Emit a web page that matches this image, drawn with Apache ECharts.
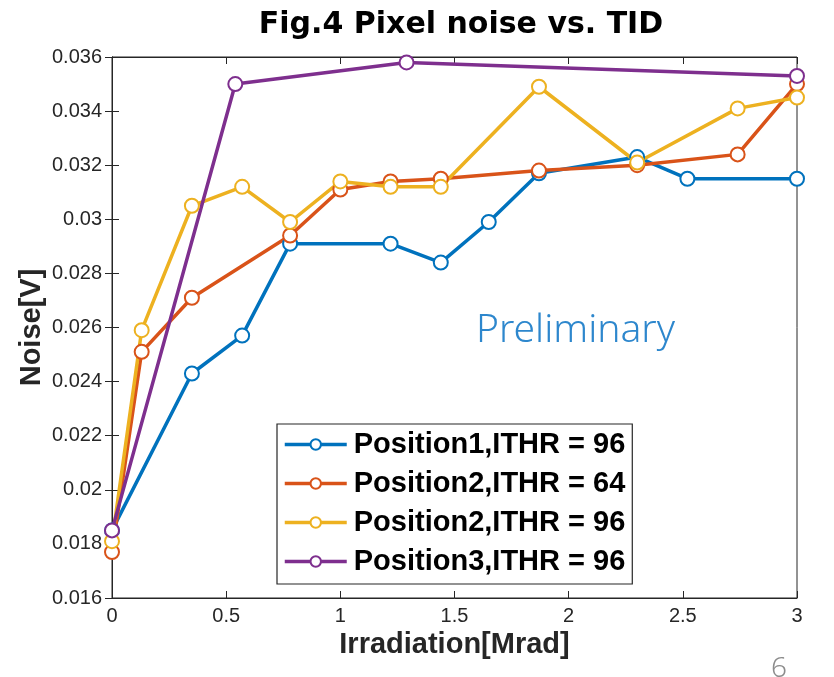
<!DOCTYPE html>
<html lang="en">
<head>
    <meta charset="utf-8">
    <script src="https://cdn.jsdelivr.net/npm/echarts@6/dist/echarts.min.js"></script>
    <style>
        html, body { margin: 0; padding: 0; background: #fff; }
    </style>
</head>
<body>
<div id="main" style="width: 834px;height:677px;"></div>
<script type="text/javascript">
    // data
    var names = ['Position1,ITHR = 96', 'Position2,ITHR = 64', 'Position2,ITHR = 96', 'Position3,ITHR = 96'];
    var colors = ['#0072BD', '#D95319', '#EDB120', '#7E2F8E'];

    var pos1X = [0, 0.35, 0.57, 0.78, 1.22, 1.44, 1.65, 1.87, 2.3, 2.52, 3.0];
    var pos1Y = [0.0185, 0.0243, 0.0257, 0.0291, 0.0291, 0.0284, 0.0299, 0.0317, 0.0323, 0.0315, 0.0315];

    var pos2aX = [0, 0.13, 0.35, 0.78, 1.0, 1.22, 1.44, 1.87, 2.3, 2.74, 3.0];
    var pos2aY = [0.0177, 0.0251, 0.0271, 0.0294, 0.0311, 0.0314, 0.0315, 0.0318, 0.0320, 0.0324, 0.0350];

    var pos2bX = [0, 0.13, 0.35, 0.57, 0.78, 1.0, 1.22, 1.44, 1.87, 2.3, 2.74, 3.0];
    var pos2bY = [0.0181, 0.0259, 0.0305, 0.0312, 0.0299, 0.0314, 0.0312, 0.0312, 0.0349, 0.0321, 0.0341, 0.0345];

    var pos3X = [0, 0.54, 1.29, 3.0];
    var pos3Y = [0.0185, 0.0350, 0.0358, 0.0353];

    function zip(xs, ys) {
        return xs.map(function (x, i) { return [x, ys[i]]; });
    }
    var allData = [zip(pos1X, pos1Y), zip(pos2aX, pos2aY), zip(pos2bX, pos2bY), zip(pos3X, pos3Y)];

    var axisFont = 'Liberation Sans, Arial, sans-serif';
    var ink = '#262626';

    var chart = echarts.init(document.getElementById('main'));
    var option = {
        animation: false,
        backgroundColor: '#fff',
        title: {
            text: 'Fig.4 Pixel noise vs. TID',
            left: 456,
            textAlign: 'center',
            top: 5,
            textStyle: {
                fontFamily: 'DejaVu Sans, sans-serif',
                fontWeight: 'bold',
                fontSize: 30,
                color: '#000'
            }
        },
        grid: {
            left: 112, right: 37, top: 57, bottom: 79,
            show: true,
            borderColor: ink,
            borderWidth: 1,
            backgroundColor: '#fff'
        },
        legend: {
            orient: 'vertical',
            left: 277,
            top: 424,
            padding: [6, 7, 8, 6],
            itemGap: 10,
            itemWidth: 62,
            itemHeight: 13,
            backgroundColor: '#fff',
            borderColor: ink,
            borderWidth: 1.2,
            data: names,
            itemStyle: {borderWidth: 3},
            lineStyle: {width: 3.5},
            textStyle: {
                fontFamily: axisFont,
                fontWeight: 'bold',
                fontSize: 29,
                color: '#000',
                padding: [0, 0, 0, 2]
            }
        },
        xAxis: [{
            type: 'value',
            min: 0, max: 3, interval: 0.5,
            name: 'Irradiation[Mrad]',
            nameLocation: 'middle',
            nameGap: 29,
            nameTextStyle: {fontFamily: axisFont, fontWeight: 'bold', fontSize: 29, color: ink},
            axisLine: {show: true, lineStyle: {color: ink}},
            axisTick: {show: true, inside: true, length: 7, lineStyle: {color: ink}},
            axisLabel: {fontFamily: axisFont, fontSize: 20, color: ink, margin: 8},
            splitLine: {show: false}
        }, {
            type: 'value',
            position: 'top',
            min: 0, max: 3, interval: 0.5,
            axisLine: {show: true, lineStyle: {color: ink}},
            axisTick: {show: true, inside: true, length: 7, lineStyle: {color: ink}},
            axisLabel: {show: false},
            splitLine: {show: false}
        }],
        yAxis: [{
            type: 'value',
            min: 0.016, max: 0.036, interval: 0.002,
            name: 'Noise[V]',
            nameLocation: 'middle',
            nameGap: 66,
            nameMoveOverlap: false,
            nameTextStyle: {fontFamily: axisFont, fontWeight: 'bold', fontSize: 29, color: ink},
            axisLine: {show: true, lineStyle: {color: ink}},
            axisTick: {show: true, inside: true, length: 7, lineStyle: {color: ink}},
            axisLabel: {
                fontFamily: axisFont, fontSize: 20, color: ink, margin: 10,
                formatter: function (v) { return String(parseFloat(v.toFixed(3))); }
            },
            splitLine: {show: false}
        }, {
            type: 'value',
            position: 'right',
            min: 0.016, max: 0.036, interval: 0.002,
            axisLine: {show: true, lineStyle: {color: ink}},
            axisTick: {show: true, inside: true, length: 7, lineStyle: {color: ink}},
            axisLabel: {show: false},
            splitLine: {show: false}
        }],
        graphic: [{
            type: 'text',
            left: 476,
            top: 311,
            style: {
                text: 'Preliminary',
                fill: '#2D87CD',
                font: '300 39px "Noto Sans", sans-serif'
            }
        }, {
            type: 'text',
            left: 771,
            top: 655,
            style: {
                text: '6',
                fill: '#8c8c8c',
                font: '300 28px "Noto Sans", sans-serif'
            }
        }],
        series: names.map(function (n, i) {
            return {
                name: n,
                type: 'line',
                data: allData[i],
                symbol: 'emptyCircle',
                symbolSize: 14,
                lineStyle: {width: 3.5, color: colors[i]},
                itemStyle: {color: colors[i], borderWidth: 3}
            };
        })
    };
    chart.setOption(option);
</script>
</body>
</html>
